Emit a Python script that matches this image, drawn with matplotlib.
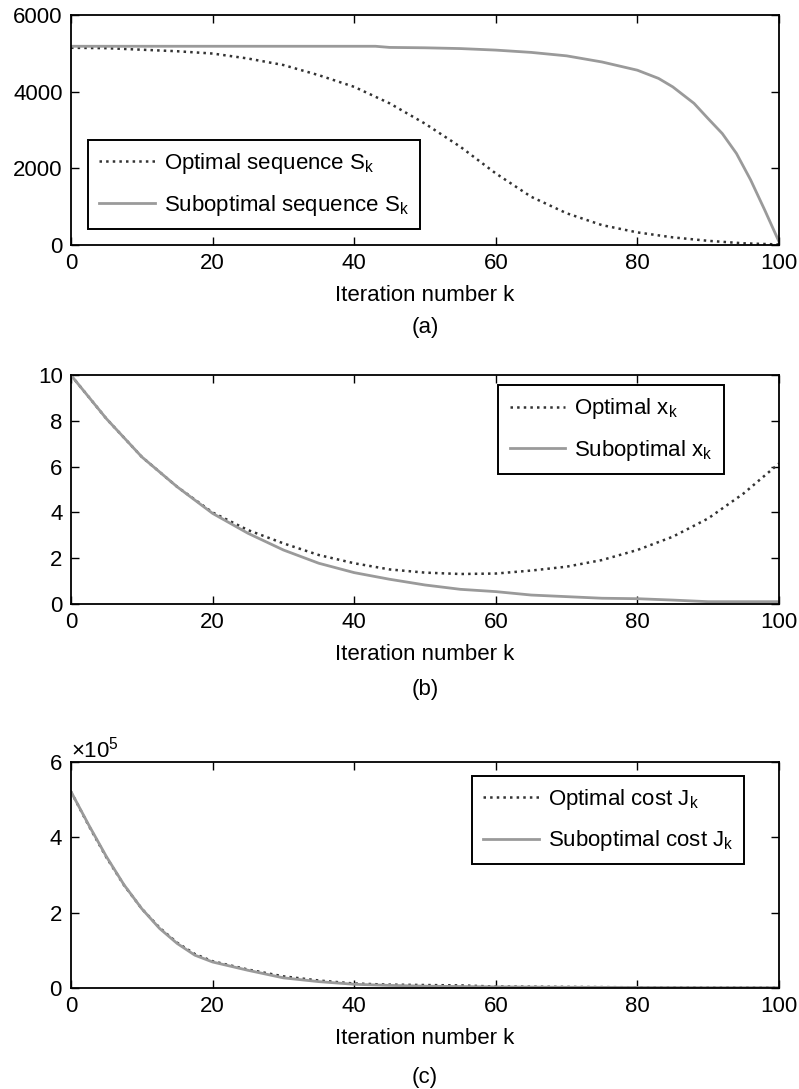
"""
Three stacked panels: optimal vs suboptimal S_k, x_k and cost J_k
over 100 iterations (MATLAB-style figure).
"""

import numpy as np
import matplotlib
matplotlib.use("Agg")
import matplotlib.pyplot as plt

plt.rcParams['font.family'] = ['Liberation Sans', 'DejaVu Sans']
plt.rcParams['mathtext.fontset'] = 'custom'
plt.rcParams['mathtext.rm'] = 'Liberation Sans'

FS = 16

# ---- panel (a): Riccati-like sequence S_k ----
k_a = [0, 5, 10, 15, 20, 25, 30, 35, 40, 45, 50, 55, 60, 65, 70, 75, 80, 85, 90, 95, 100]
s_opt = [5150, 5140, 5100, 5060, 5000, 4870, 4700, 4435, 4130, 3700, 3170, 2565, 1870,
         1260, 830, 520, 330, 200, 110, 45, 15]
k_a_sub = [0, 10, 20, 30, 40, 43, 45, 50, 55, 60, 65, 70, 75, 80, 83, 85, 88, 90, 92,
           94, 96, 98, 100]
s_sub = [5190, 5190, 5190, 5190, 5190, 5190, 5160, 5150, 5130, 5090, 5030, 4940, 4780,
         4565, 4350, 4130, 3700, 3300, 2910, 2390, 1700, 910, 90]

# ---- panel (b): state x_k ----
k_b = [0, 5, 10, 15, 20, 25, 30, 35, 40, 45, 50, 55, 60, 65, 70, 75, 80, 85, 90, 95, 100]
x_opt = [10, 8.1, 6.43, 5.12, 4.0, 3.23, 2.65, 2.14, 1.78, 1.51, 1.37, 1.31, 1.33, 1.46,
         1.63, 1.92, 2.36, 2.94, 3.74, 4.83, 6.14]
x_sub = [10, 8.1, 6.43, 5.12, 3.96, 3.09, 2.36, 1.78, 1.37, 1.08, 0.83, 0.64, 0.54, 0.39,
         0.32, 0.25, 0.23, 0.17, 0.1, 0.1, 0.1]

# ---- panel (c): cost J_k (x 1e5) ----
k_c = [0, 2.5, 5, 7.5, 10, 12.5, 15, 17.5, 20, 25, 30, 35, 40, 45, 50, 55, 60, 70, 80, 90, 100]
j_opt = [5.2, 4.3, 3.46, 2.72, 2.1, 1.6, 1.2, 0.9, 0.71, 0.49, 0.31, 0.2, 0.12, 0.09,
         0.08, 0.07, 0.04, 0.03, 0.02, 0.01, 0.01]
j_sub = [5.2, 4.32, 3.48, 2.73, 2.1, 1.58, 1.18, 0.87, 0.69, 0.47, 0.27, 0.17, 0.1, 0.07,
         0.05, 0.04, 0.03, 0.02, 0.015, 0.01, 0.01]
j_opt = [v * 1e5 for v in j_opt]
j_sub = [v * 1e5 for v in j_sub]

DOT_COLOR = '#333333'
SUB_COLOR = '#9a9a9a'


def style_axis(ax, ylim, yticks):
    ax.set_xlim(0, 100)
    ax.set_ylim(*ylim)
    ax.set_xticks([0, 20, 40, 60, 80, 100])
    ax.set_yticks(yticks)
    ax.tick_params(direction='in', top=True, right=True, length=6, width=1.0,
                   labelsize=FS, pad=6)
    for sp in ax.spines.values():
        sp.set_linewidth(1.3)
    ax.set_xlabel('Iteration number k', fontsize=FS, labelpad=8)


fig = plt.figure(figsize=(7.99, 10.89), dpi=100)
left, width = 0.0889, 0.886
ax_a = fig.add_axes([left, 0.775, width, 0.211])
ax_b = fig.add_axes([left, 0.4454, width, 0.210])
ax_c = fig.add_axes([left, 0.0927, width, 0.208])

leg_kw = dict(fontsize=FS, fancybox=False, edgecolor='black', framealpha=1,
              handlelength=2.5, handletextpad=0.4, borderpad=0.5, labelspacing=0.75,
              borderaxespad=0)

# (a)
ax_a.plot(k_a, s_opt, ':', color=DOT_COLOR, lw=1.8, label=r'Optimal sequence S$_{\mathregular{k}}$')
ax_a.plot(k_a_sub, s_sub, '-', color=SUB_COLOR, lw=2.0, label=r'Suboptimal sequence S$_{\mathregular{k}}$')
style_axis(ax_a, (0, 6000), [0, 2000, 4000, 6000])
lg = ax_a.legend(loc='lower left', bbox_to_anchor=(0.024, 0.07), **leg_kw)
lg.get_frame().set_linewidth(1.4)

# (b)
ax_b.plot(k_b, x_opt, ':', color=DOT_COLOR, lw=1.8, label=r'Optimal x$_{\mathregular{k}}$')
ax_b.plot(k_b, x_sub, '-', color=SUB_COLOR, lw=2.0, label=r'Suboptimal x$_{\mathregular{k}}$')
style_axis(ax_b, (0, 10), [0, 2, 4, 6, 8, 10])
lg = ax_b.legend(loc='upper right', bbox_to_anchor=(0.922, 0.956), **leg_kw)
lg.get_frame().set_linewidth(1.4)

# (c)
ax_c.plot(k_c, j_opt, ':', color=DOT_COLOR, lw=1.8, label=r'Optimal cost J$_{\mathregular{k}}$')
ax_c.plot(k_c, j_sub, '-', color=SUB_COLOR, lw=2.0, label=r'Suboptimal cost J$_{\mathregular{k}}$')
style_axis(ax_c, (0, 6e5), [0, 2e5, 4e5, 6e5])
ax_c.ticklabel_format(axis='y', style='sci', scilimits=(0, 0), useMathText=True)
ax_c.yaxis.get_offset_text().set_fontsize(FS)
lg = ax_c.legend(loc='upper right', bbox_to_anchor=(0.951, 0.938), **leg_kw)
lg.get_frame().set_linewidth(1.4)

# panel captions
cx = left + width / 2
fig.text(cx, 1 - 327 / 1089, '(a)', ha='center', va='center', fontsize=FS)
fig.text(cx, 1 - 690 / 1089, '(b)', ha='center', va='center', fontsize=FS)
fig.text(cx, 1 - 1077 / 1089, '(c)', ha='center', va='center', fontsize=FS)

fig.savefig('out.png', dpi=100)
